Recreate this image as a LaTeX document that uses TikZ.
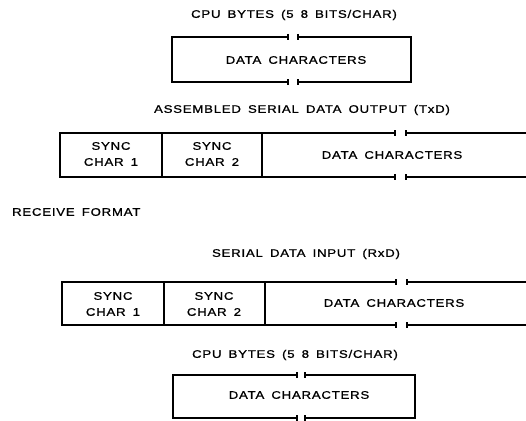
\documentclass[tikz,border=0pt]{standalone}
\usepackage{fontspec}
\setmainfont{Liberation Sans}[FakeStretch=1.2,FakeBold=1,LetterSpace=7,WordSpace=1.6]
\usepackage{tikz}

\begin{document}
\begin{tikzpicture}
[x=1pt,y=-1pt,line width=1.6pt,
 lbl/.style={font=\fontsize{11}{12}\selectfont},
 cell/.style={font=\fontsize{11}{16}\selectfont,align=center}]
\useasboundingbox (0,0) rectangle (526,420);

% transmit side
\node[lbl] (cpu1) at (294,15) {CPU BYTES (5 8 BITS/CHAR)};
\draw (288,37) -- (172,37) -- (172,82) -- (288,82);
\draw (298,37) -- (411,37) -- (411,82) -- (298,82);
\node[lbl] (dc1) at (296,60) {DATA CHARACTERS};

\node[lbl] (txd) at (302,110) {ASSEMBLED SERIAL DATA OUTPUT (TxD)};
\draw (395,133) -- (60,133) -- (60,177) -- (395,177);
\draw (406,133) -- (526,133);
\draw (406,177) -- (526,177);
\draw (162,133) -- (162,177);
\draw (262,133) -- (262,177);
\node[cell] (s1) at (111,154) {SYNC\\CHAR 1};
\node[cell] (s2) at (212,154) {SYNC\\CHAR 2};
\node[lbl] (dc2) at (392,155) {DATA CHARACTERS};

% receive side
\node[lbl,anchor=west] (rcv) at (8,212) {RECEIVE FORMAT};

\node[lbl] (rxd) at (306,254) {SERIAL DATA INPUT (RxD)};
\draw (396,282) -- (62,282) -- (62,325) -- (396,325);
\draw (407,282) -- (526,282);
\draw (407,325) -- (526,325);
\draw (164,282) -- (164,325);
\draw (265,282) -- (265,325);
\node[cell] (s3) at (113,304) {SYNC\\CHAR 1};
\node[cell] (s4) at (214,304) {SYNC\\CHAR 2};
\node[lbl] (dc3) at (394,303) {DATA CHARACTERS};

\node[lbl] (cpu2) at (295,355) {CPU BYTES (5 8 BITS/CHAR)};
\draw (297,375) -- (173,375) -- (173,418) -- (297,418);
\draw (305,375) -- (415,375) -- (415,418) -- (305,418);
\node[lbl] (dc4) at (299,395) {DATA CHARACTERS};

% break ticks
\foreach \x/\y in {288/37,298/37,288/82,298/82,395/133,406/133,395/177,406/177,
  396/282,407/282,396/325,407/325,297/375,305/375,297/418,305/418}
\draw (\x,\y-3) -- (\x,\y+3);
\end{tikzpicture}
\end{document}
